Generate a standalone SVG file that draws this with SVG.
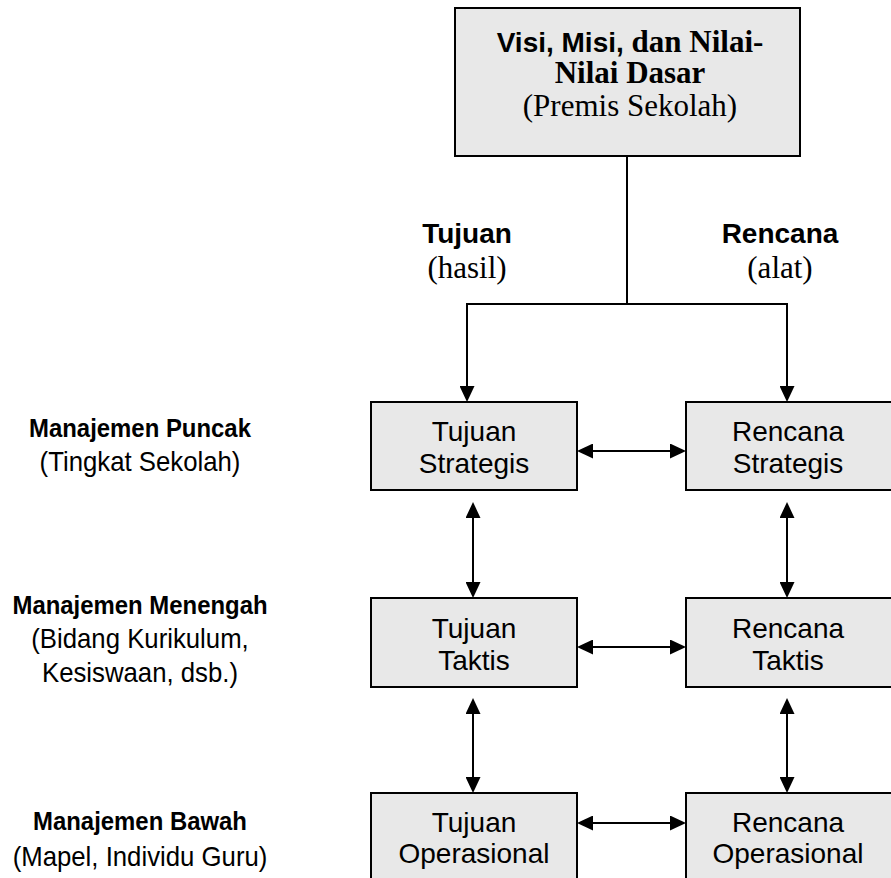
<svg xmlns="http://www.w3.org/2000/svg" width="891" height="878" viewBox="0 0 891 878">
  <style>
    .box { fill: #e8e8e8; stroke: #000; stroke-width: 2; }
    .conn { fill: none; stroke: #000; stroke-width: 2; }
    .sans { font-family: "Liberation Sans", Arial, sans-serif; fill: #000; }
    .serif { font-family: "Liberation Serif", "Times New Roman", serif; fill: #000; }
    .b { font-weight: bold; }
    .mid { text-anchor: middle; }
    .node { font-size: 28px; }
  </style>
  <defs>
    <marker id="ah" markerUnits="userSpaceOnUse" markerWidth="16" markerHeight="15" refX="14" refY="7.5" orient="auto-start-reverse">
      <path d="M0,0 L16,7.5 L0,15 z" fill="#000"/>
    </marker>
  </defs>

  <rect width="891" height="878" fill="#fff"/>

  <g id="connectors">
    <path class="conn" d="M627 156 V304"/>
    <path class="conn" d="M466 304 H788"/>
    <path class="conn" d="M467 304 V400" marker-end="url(#ah)"/>
    <path class="conn" d="M787 304 V400" marker-end="url(#ah)"/>
    <path class="conn" d="M579 451 H684" marker-start="url(#ah)" marker-end="url(#ah)"/>
    <path class="conn" d="M579 647 H684" marker-start="url(#ah)" marker-end="url(#ah)"/>
    <path class="conn" d="M579 823 H684" marker-start="url(#ah)" marker-end="url(#ah)"/>
    <path class="conn" d="M473 504 V596" marker-start="url(#ah)" marker-end="url(#ah)"/>
    <path class="conn" d="M787 504 V596" marker-start="url(#ah)" marker-end="url(#ah)"/>
    <path class="conn" d="M473 700 V791" marker-start="url(#ah)" marker-end="url(#ah)"/>
    <path class="conn" d="M787 700 V791" marker-start="url(#ah)" marker-end="url(#ah)"/>
  </g>

  <g id="node-premis">
    <rect class="box" x="455" y="8" width="345" height="148"/>
    <text class="mid" x="630" y="52"><tspan class="sans b" font-size="28">Visi, Misi,</tspan><tspan class="serif b" font-size="31"> dan Nilai-</tspan></text>
    <text class="serif b mid" x="630" y="83" font-size="31">Nilai Dasar</text>
    <text class="serif mid" x="630" y="116" font-size="31">(Premis Sekolah)</text>
  </g>

  <g id="label-tujuan">
    <text class="sans b mid" x="467" y="243" font-size="28">Tujuan</text>
    <text class="serif mid" x="467" y="278" font-size="31">(hasil)</text>
  </g>
  <g id="label-rencana">
    <text class="sans b mid" x="780" y="243" font-size="28">Rencana</text>
    <text class="serif mid" x="780" y="278" font-size="31">(alat)</text>
  </g>

  <g id="node-tujuan-strategis">
    <rect class="box" x="371" y="402" width="206" height="88"/>
    <text class="sans node mid" x="474" y="441">Tujuan</text>
    <text class="sans node mid" x="474" y="473">Strategis</text>
  </g>
  <g id="node-rencana-strategis">
    <rect class="box" x="686" y="402" width="208" height="88"/>
    <text class="sans node mid" x="788" y="441">Rencana</text>
    <text class="sans node mid" x="788" y="473">Strategis</text>
  </g>
  <g id="node-tujuan-taktis">
    <rect class="box" x="371" y="598" width="206" height="89"/>
    <text class="sans node mid" x="474" y="638">Tujuan</text>
    <text class="sans node mid" x="474" y="670">Taktis</text>
  </g>
  <g id="node-rencana-taktis">
    <rect class="box" x="686" y="598" width="208" height="89"/>
    <text class="sans node mid" x="788" y="638">Rencana</text>
    <text class="sans node mid" x="788" y="670">Taktis</text>
  </g>
  <g id="node-tujuan-operasional">
    <rect class="box" x="371" y="793" width="206" height="90"/>
    <text class="sans node mid" x="474" y="832">Tujuan</text>
    <text class="sans node mid" x="474" y="863">Operasional</text>
  </g>
  <g id="node-rencana-operasional">
    <rect class="box" x="686" y="793" width="208" height="90"/>
    <text class="sans node mid" x="788" y="832">Rencana</text>
    <text class="sans node mid" x="788" y="863">Operasional</text>
  </g>

  <g id="label-puncak" transform="translate(140 0) scale(0.92 1)">
    <text class="sans b mid" x="0" y="437" font-size="26">Manajemen Puncak</text>
    <text class="sans mid" x="0" y="471" font-size="28">(Tingkat Sekolah)</text>
  </g>
  <g id="label-menengah" transform="translate(140 0) scale(0.92 1)">
    <text class="sans b mid" x="0" y="614" font-size="26">Manajemen Menengah</text>
    <text class="sans mid" x="0" y="648" font-size="28">(Bidang Kurikulum,</text>
    <text class="sans mid" x="0" y="682" font-size="28">Kesiswaan, dsb.)</text>
  </g>
  <g id="label-bawah" transform="translate(140 0) scale(0.92 1)">
    <text class="sans b mid" x="0" y="830" font-size="26">Manajemen Bawah</text>
    <text class="sans mid" x="0" y="866" font-size="28">(Mapel, Individu Guru)</text>
  </g>
</svg>
